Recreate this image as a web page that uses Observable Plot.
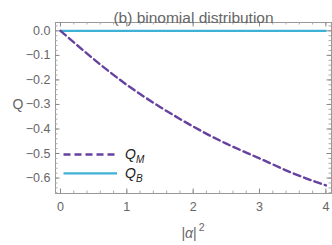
<!DOCTYPE html>
<html><head><meta charset="utf-8">
<script src="https://cdn.jsdelivr.net/npm/d3@7"></script>
<script src="https://cdn.jsdelivr.net/npm/@observablehq/plot@0.6"></script>
<style>
body{margin:0;background:#fff;font-family:"Liberation Sans",Arial,sans-serif;}
#wrap{position:relative;width:332px;height:245px;}
#legend{position:absolute;left:0;top:0;pointer-events:none;}
</style></head>
<body><div id="wrap"></div>
<script>
const alpha2 = [0, 0.5, 1, 1.5, 2, 2.5, 3, 3.5, 4];
const qM = [0, -0.115, -0.22, -0.31, -0.39, -0.46, -0.52, -0.58, -0.63];
const qB = [0, 0, 0, 0, 0, 0, 0, 0, 0];
const xTicks = [0, 1, 2, 3, 4];
const yTicks = [0, -0.1, -0.2, -0.3, -0.4, -0.5, -0.6];
const title = "(b) binomial distribution";
const seriesNames = ["M", "B"];
const colors = ["#6641a0", "#3fb0d6"];

const dM = alpha2.map((x, i) => ({x, y: qM[i]}));
const dB = alpha2.map((x, i) => ({x, y: qB[i]}));
const xMinor = d3.range(0, 4.001, 0.2).map(v => +v.toFixed(2));
const yMinor = d3.range(-0.66, 0.03, 0.02).map(v => +v.toFixed(2));
const grey = "#666";

const W = 332, H = 245, mT = 22, mB = 52, mL = 55, mR = 1;
const fh = H - mT - mB, fw = W - mL - mR;
const tx = (vals, len, s) => [
  Plot.tickX(vals, {x: d => d, insetTop: fh - len, stroke: s}),
  Plot.tickX(vals, {x: d => d, insetBottom: fh - len, stroke: s})
];
const ty = (vals, len, s) => [
  Plot.tickY(vals, {y: d => d, insetRight: fw - len, stroke: s}),
  Plot.tickY(vals, {y: d => d, insetLeft: fw - len, stroke: s})
];

const chart = Plot.plot({
  width: W, height: H,
  marginTop: mT, marginBottom: mB, marginLeft: mL, marginRight: mR,
  style: {fontFamily: "Liberation Sans, Arial, sans-serif", fontSize: "12px", color: grey, background: "white"},
  x: {domain: [-0.075, 4.085], axis: null},
  y: {domain: [-0.663, 0.034], axis: null},
  marks: [
    Plot.frame({stroke: "#999", strokeWidth: 1}),
    ...tx(xMinor, 2.5, "#aaa"), ...ty(yMinor, 2.5, "#aaa"),
    ...tx(xTicks, 4.5, "#888"), ...ty(yTicks, 4.5, "#888"),
    Plot.axisX(xTicks, {anchor: "bottom", tickSize: 0, tickPadding: 9, tickFormat: d3.format("d"), fill: grey, fontSize: 12.5, label: null}),
    Plot.axisY(yTicks, {anchor: "left", tickSize: 0, tickPadding: 5, tickFormat: d3.format(".1f"), fill: grey, fontSize: 12.5, label: null}),
    Plot.line(dB, {x: "x", y: "y", stroke: colors[1], strokeWidth: 2.2}),
    Plot.line(dM, {x: "x", y: "y", stroke: colors[0], strokeWidth: 2.4, strokeDasharray: "7,4", curve: "natural"}),
    Plot.text([title], {frameAnchor: "top", dy: -11, fontSize: 15.5, fill: grey}),
    Plot.text(["Q"], {frameAnchor: "left", dx: -43, dy: -3, fontSize: 14, fill: grey})
  ]
});
document.getElementById("wrap").appendChild(chart);

// legend + x label overlay
const lg = d3.select("#wrap").append("svg").attr("id", "legend").attr("width", W).attr("height", H);
const rows = [{y: 154.5, dash: "7,4", w: 2.4}, {y: 173.3, dash: null, w: 2.2}];
rows.forEach((r, i) => {
  lg.append("line").attr("x1", 63.5).attr("x2", 117).attr("y1", r.y).attr("y2", r.y)
    .attr("stroke", colors[i]).attr("stroke-width", r.w).attr("stroke-dasharray", r.dash);
  const t = lg.append("text").attr("x", 125).attr("y", r.y + 4.5)
    .attr("font-family", "Liberation Sans, Arial, sans-serif").attr("font-size", 14).attr("fill", "#222");
  t.append("tspan").attr("font-style", "italic").text("Q");
  t.append("tspan").attr("font-style", "italic").attr("font-size", 10).attr("dy", 4).text(seriesNames[i]);
});
const xl = lg.append("text").attr("x", 193).attr("y", 238).attr("text-anchor", "middle")
  .attr("font-family", "Liberation Sans, Arial, sans-serif").attr("font-size", 14).attr("fill", grey);
xl.append("tspan").text("|");
xl.append("tspan").attr("font-style", "italic").text("α");
xl.append("tspan").text("|");
xl.append("tspan").attr("font-size", 10.5).attr("dy", -7).attr("dx", 2).text("2");
</script></body></html>
